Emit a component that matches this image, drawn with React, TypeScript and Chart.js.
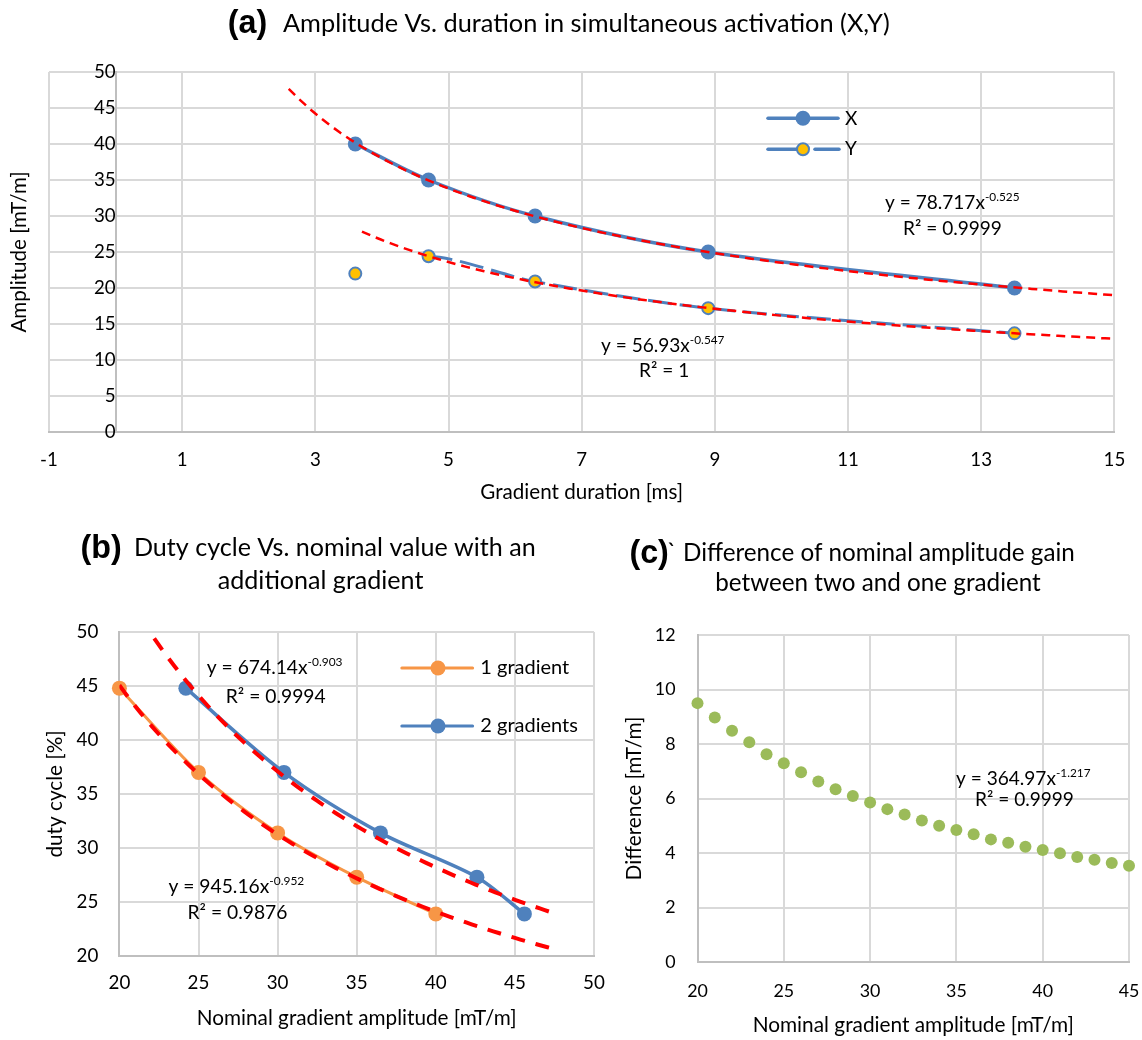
import React, { useEffect, useRef } from 'react';
import { Chart, registerables } from 'chart.js';

Chart.register(...registerables);

// ---------- (a) Amplitude vs. duration ----------
const xTicksA = [-1, 1, 3, 5, 7, 9, 11, 13, 15];
const yTicksA = [0, 5, 10, 15, 20, 25, 30, 35, 40, 45, 50];
const durationA = [3.6, 4.7, 6.3, 8.9, 13.5];
const amplitudeX = [40, 35, 30, 25, 20];
const amplitudeY = [22, 24.4, 20.9, 17.2, 13.7];
const trendXA = [78.717, -0.525]; // y = a * x^b (printed trendline)
const trendYA = [56.93, -0.547];
const trendRangeXA = [2.6, 15];
const trendRangeYA = [3.7, 15];

// ---------- (b) Duty cycle vs. nominal value ----------
const xTicksB = [20, 25, 30, 35, 40, 45, 50];
const yTicksB = [20, 25, 30, 35, 40, 45, 50];
const nominal1 = [20, 25, 30, 35, 40];
const duty1 = [44.8, 37, 31.4, 27.3, 23.9];
const nominal2 = [24.2, 30.4, 36.5, 42.6, 45.6];
const duty2 = [44.8, 37, 31.4, 27.3, 23.9];
const trend1B = [674.14, -0.903];
const trend2B = [945.16, -0.952];
const trendRange1B = [20, 47.4];
const trendRange2B = [22.2, 47.2];

// ---------- (c) Difference ----------
const xTicksC = [20, 25, 30, 35, 40, 45];
const yTicksC = [0, 2, 4, 6, 8, 10, 12];
const nominalC = [20, 21, 22, 23, 24, 25, 26, 27, 28, 29, 30, 31, 32, 33, 34, 35, 36, 37, 38, 39, 40, 41, 42, 43, 44, 45];
const differenceC = [9.5, 8.97, 8.49, 8.06, 7.62, 7.29, 6.96, 6.62, 6.34, 6.09, 5.85, 5.61, 5.41, 5.19, 5.0, 4.84, 4.69, 4.5, 4.38, 4.23, 4.11, 3.99, 3.85, 3.75, 3.63, 3.53];

const SANS = 'Lato, "Open Sans", sans-serif';
const BOLD = '"Liberation Sans", Arial, sans-serif';
const BLUE = '#4F81BD';
const ORANGE = '#F79646';
const GOLD = '#FFC000';
const GREEN = '#9BBB59';
const RED = '#FF0000';
const GRID = '#D9D9D9';
const AXIS = '#BFBFBF';

function fit(text: string, width: number, family = SANS, weight = 'normal') {
  const c = document.createElement('canvas').getContext('2d')!;
  c.font = `${weight} 100px ${family}`;
  return (100 * width) / c.measureText(text).width;
}
const lh = (s: number) => s * 1.2;

function powerCurve(coef: number[], range: number[], n = 80) {
  const pts: { x: number; y: number }[] = [];
  for (let i = 0; i <= n; i++) {
    const x = range[0] + ((range[1] - range[0]) * i) / n;
    pts.push({ x, y: coef[0] * Math.pow(x, coef[1]) });
  }
  return pts;
}
const pairs = (xs: number[], ys: number[]) => xs.map((x, i) => ({ x, y: ys[i] }));
const setTicks = (arr: number[]) => (s: any) => {
  s.ticks = arr.map((v) => ({ value: v }));
};

function text(ctx: CanvasRenderingContext2D, s: string, x: number, y: number, font: string, align: CanvasTextAlign = 'left') {
  ctx.font = font;
  ctx.fillStyle = '#000';
  ctx.textAlign = align;
  ctx.textBaseline = 'middle';
  ctx.fillText(s, x, y);
}
function eq(ctx: CanvasRenderingContext2D, base: string, sup: string, x: number, y: number, size: number) {
  text(ctx, base, x, y, `${size}px ${SANS}`);
  const w = ctx.measureText(base).width;
  text(ctx, sup, x + w, y - size * 0.33, `${size * 0.62}px ${SANS}`);
}
function legendLine(ctx: CanvasRenderingContext2D, x1: number, x2: number, y: number, color: string, w: number) {
  ctx.strokeStyle = color;
  ctx.lineWidth = w;
  ctx.lineCap = 'round';
  ctx.setLineDash([]);
  ctx.beginPath();
  ctx.moveTo(x1, y);
  ctx.lineTo(x2, y);
  ctx.stroke();
}
function dot(ctx: CanvasRenderingContext2D, x: number, y: number, r: number, fill: string, stroke?: string, sw = 0) {
  ctx.beginPath();
  ctx.arc(x, y, r, 0, Math.PI * 2);
  ctx.fillStyle = fill;
  ctx.fill();
  if (stroke && sw) {
    ctx.strokeStyle = stroke;
    ctx.lineWidth = sw;
    ctx.stroke();
  }
}

const baseOptions = {
  responsive: false,
  animation: false as const,
  devicePixelRatio: 1,
  events: [] as any[],
};

function makeA(canvas: HTMLCanvasElement) {
  const tick = fit('50', 21.7);
  const axTitle = fit('Gradient duration [ms]', 203);
  const lab = fit('(a)', 39.5, BOLD, 'bold');
  const ttl = fit('Amplitude Vs. duration in simultaneous activation (X,Y)', 607);
  const eqS = fit('y = 78.717x', 100);
  const plugin = {
    id: 'annA',
    afterDraw(chart: any) {
      const ctx = chart.ctx as CanvasRenderingContext2D;
      ctx.save();
      text(ctx, '(a)', 227.8, 24, `bold ${lab}px ${BOLD}`);
      text(ctx, 'Amplitude Vs. duration in simultaneous activation (X,Y)', 283, 24, `${ttl}px ${SANS}`);
      ctx.save();
      ctx.translate(19, 252);
      ctx.rotate(-Math.PI / 2);
      text(ctx, 'Amplitude [mT/m]', 0, 0, `${axTitle}px ${SANS}`, 'center');
      ctx.restore();
      // legend
      legendLine(ctx, 768, 838, 118.3, BLUE, 3.5);
      dot(ctx, 803, 118.3, 7.5, BLUE);
      text(ctx, 'X', 845, 119, `${eqS}px ${SANS}`);
      legendLine(ctx, 768, 799, 149.3, BLUE, 3.5);
      legendLine(ctx, 815, 839, 149.3, BLUE, 3.5);
      dot(ctx, 803, 149.3, 6, GOLD, BLUE, 2);
      text(ctx, 'Y', 845, 148.5, `${eqS}px ${SANS}`);
      // equations
      eq(ctx, 'y = 78.717x', '-0.525', 885, 203, eqS);
      text(ctx, 'R² = 0.9999', 903, 229, `${eqS}px ${SANS}`);
      eq(ctx, 'y = 56.93x', '-0.547', 601, 346, eqS);
      text(ctx, 'R² = 1', 639, 371, `${eqS}px ${SANS}`);
      ctx.restore();
    },
  };
  return new Chart(canvas, {
    type: 'scatter',
    data: {
      datasets: [
        { label: 'trend X', data: powerCurve(trendXA, trendRangeXA), showLine: true, borderColor: RED, borderWidth: 2.5, borderDash: [9, 6], pointRadius: 0, order: 0 },
        { label: 'trend Y', data: powerCurve(trendYA, trendRangeYA), showLine: true, borderColor: RED, borderWidth: 2.5, borderDash: [9, 6], pointRadius: 0, order: 0 },
        {
          label: 'X', data: pairs(durationA, amplitudeX), showLine: true, borderColor: BLUE, borderWidth: 3.5, tension: 0.3,
          pointRadius: 7.5, pointBackgroundColor: BLUE, pointBorderColor: BLUE, pointBorderWidth: 0, order: 1, clip: false,
        },
        {
          label: 'Y', data: pairs(durationA, amplitudeY), showLine: true, borderColor: BLUE, borderWidth: 3, borderDash: [24, 8], tension: 0.3,
          segment: { borderColor: (c: any) => (c.p0DataIndex === 0 ? 'rgba(0,0,0,0)' : undefined) },
          pointRadius: 6, pointBackgroundColor: GOLD, pointBorderColor: BLUE, pointBorderWidth: 2, order: 1, clip: false,
        },
      ],
    },
    options: {
      ...baseOptions,
      layout: { padding: { left: 49, right: 25, top: 72, bottom: 0 } },
      plugins: { legend: { display: false }, tooltip: { enabled: false } },
      scales: {
        x: {
          type: 'linear', position: 'bottom', min: -1, max: 15,
          afterBuildTicks: setTicks(xTicksA),
          afterFit: (s: any) => { s.height = 73; },
          grid: { color: GRID, lineWidth: 2, drawTicks: false },
          border: { color: AXIS, width: 2 },
          ticks: { color: '#000', font: { family: SANS, size: tick }, padding: 28 - lh(tick) / 2, maxRotation: 0, autoSkip: false },
          title: { display: true, text: 'Gradient duration [ms]', color: '#000', font: { family: SANS, size: axTitle }, padding: { top: 0, bottom: Math.max(0, 11 - lh(axTitle) / 2) } },
        },
        y: {
          type: 'linear', position: { x: 0 } as any, min: 0, max: 50,
          afterBuildTicks: setTicks(yTicksA),
          grid: { color: GRID, lineWidth: 2, drawTicks: false },
          border: { color: AXIS, width: 2 },
          ticks: { color: '#000', font: { family: SANS, size: tick }, padding: 21, autoSkip: false },
        },
      },
    } as any,
    plugins: [plugin],
  });
}

function makeB(canvas: HTMLCanvasElement) {
  const tick = fit('40', 21.8);
  const axTitle = fit('Nominal gradient amplitude [mT/m]', 320);
  const lab = fit('(a)', 39.5, BOLD, 'bold');
  const ttl = fit('Duty cycle Vs. nominal value with an', 402);
  const eqS = fit('y = 674.14x', 101);
  const legS = fit('1 gradient', 89);
  const plugin = {
    id: 'annB',
    afterDraw(chart: any) {
      const ctx = chart.ctx as CanvasRenderingContext2D;
      ctx.save();
      text(ctx, '(b)', 80.4, 44, `bold ${lab}px ${BOLD}`);
      text(ctx, 'Duty cycle Vs. nominal value with an', 134, 43, `${ttl}px ${SANS}`);
      text(ctx, 'additional gradient', 320.6, 76, `${ttl}px ${SANS}`, 'center');
      // legend
      legendLine(ctx, 401.8, 472.6, 163, ORANGE, 3);
      dot(ctx, 438, 163, 7.5, ORANGE);
      text(ctx, '1 gradient', 480.3, 163, `${legS}px ${SANS}`);
      legendLine(ctx, 401.8, 472.6, 221, BLUE, 3);
      dot(ctx, 438, 221, 7.5, BLUE);
      text(ctx, '2 gradients', 480.3, 221, `${legS}px ${SANS}`);
      // equations
      eq(ctx, 'y = 674.14x', '-0.903', 206.7, 163, eqS);
      text(ctx, 'R² = 0.9994', 225.8, 192, `${eqS}px ${SANS}`);
      eq(ctx, 'y = 945.16x', '-0.952', 168.4, 382, eqS);
      text(ctx, 'R² = 0.9876', 187.5, 408, `${eqS}px ${SANS}`);
      ctx.restore();
    },
  };
  return new Chart(canvas, {
    type: 'scatter',
    data: {
      datasets: [
        { label: 'trend 1', data: powerCurve(trend1B, trendRange1B), showLine: true, borderColor: RED, borderWidth: 4, borderDash: [14, 11], pointRadius: 0, order: 0 },
        { label: 'trend 2', data: powerCurve(trend2B, trendRange2B), showLine: true, borderColor: RED, borderWidth: 4, borderDash: [14, 11], pointRadius: 0, order: 0 },
        {
          label: '1 gradient', data: pairs(nominal1, duty1), showLine: true, borderColor: ORANGE, borderWidth: 3, tension: 0.3,
          pointRadius: 7.5, pointBackgroundColor: ORANGE, pointBorderColor: ORANGE, pointBorderWidth: 0, order: 1, clip: false,
        },
        {
          label: '2 gradients', data: pairs(nominal2, duty2), showLine: true, borderColor: BLUE, borderWidth: 3.5, tension: 0.3,
          pointRadius: 7.5, pointBackgroundColor: BLUE, pointBorderColor: BLUE, pointBorderWidth: 0, order: 1, clip: false,
        },
      ],
    },
    options: {
      ...baseOptions,
      layout: { padding: { left: 0, right: 46, top: 127, bottom: 0 } },
      plugins: { legend: { display: false }, tooltip: { enabled: false } },
      scales: {
        x: {
          type: 'linear', position: 'bottom', min: 20, max: 50,
          afterBuildTicks: setTicks(xTicksB),
          afterFit: (s: any) => { s.height = 84; },
          grid: { color: GRID, lineWidth: 2, drawTicks: false },
          border: { color: AXIS, width: 2 },
          ticks: { color: '#000', font: { family: SANS, size: tick }, padding: 27 - lh(tick) / 2, maxRotation: 0, autoSkip: false },
          title: { display: true, text: 'Nominal gradient amplitude [mT/m]', color: '#000', font: { family: SANS, size: axTitle }, padding: { top: 0, bottom: Math.max(0, 22 - lh(axTitle) / 2) } },
        },
        y: {
          type: 'linear', position: 'left', min: 20, max: 50,
          afterBuildTicks: setTicks(yTicksB),
          afterFit: (s: any) => { s.width = 119.4; },
          grid: { color: GRID, lineWidth: 2, drawTicks: false },
          border: { color: AXIS, width: 2 },
          ticks: { color: '#000', font: { family: SANS, size: tick }, padding: 21, autoSkip: false },
          title: { display: true, text: 'duty cycle [%]', color: '#000', font: { family: SANS, size: axTitle }, padding: { top: Math.max(0, 55.5 - lh(axTitle) / 2), bottom: 0 } },
        },
      },
    } as any,
    plugins: [plugin],
  });
}

function makeC(canvas: HTMLCanvasElement) {
  const tick = fit('20', 20.7);
  const axTitle = fit('Nominal gradient amplitude [mT/m]', 321.5);
  const lab = fit('(a)', 39.5, BOLD, 'bold');
  const ttl = fit('Difference of nominal amplitude gain', 392);
  const eqS = fit('y = 364.97x', 100);
  const plugin = {
    id: 'annC',
    afterDraw(chart: any) {
      const ctx = chart.ctx as CanvasRenderingContext2D;
      ctx.save();
      text(ctx, '(c)', 29.4, 49, `bold ${lab}px ${BOLD}`);
      text(ctx, '`', 67, 48, `${ttl}px ${SANS}`);
      text(ctx, 'Difference of nominal amplitude gain', 83, 48, `${ttl}px ${SANS}`);
      text(ctx, 'between two and one gradient', 278, 78, `${ttl}px ${SANS}`, 'center');
      eq(ctx, 'y = 364.97x', '-1.217', 356, 274, eqS);
      text(ctx, 'R² = 0.9999', 375, 295, `${eqS}px ${SANS}`);
      ctx.restore();
    },
  };
  return new Chart(canvas, {
    type: 'scatter',
    data: {
      datasets: [
        {
          label: 'Difference', data: pairs(nominalC, differenceC), showLine: false,
          pointRadius: 6, pointBackgroundColor: GREEN, pointBorderColor: GREEN, pointBorderWidth: 0, clip: false,
        },
      ],
    },
    options: {
      ...baseOptions,
      layout: { padding: { left: 0, right: 71, top: 130, bottom: 0 } },
      plugins: { legend: { display: false }, tooltip: { enabled: false } },
      scales: {
        x: {
          type: 'linear', position: 'bottom', min: 20, max: 45,
          afterBuildTicks: setTicks(xTicksC),
          afterFit: (s: any) => { s.height = 78; },
          grid: { color: GRID, lineWidth: 2, drawTicks: false },
          border: { color: AXIS, width: 2 },
          ticks: { color: '#000', font: { family: SANS, size: tick }, padding: 29.7 - lh(tick) / 2, maxRotation: 0, autoSkip: false },
          title: { display: true, text: 'Nominal gradient amplitude [mT/m]', color: '#000', font: { family: SANS, size: axTitle }, padding: { top: 0, bottom: Math.max(0, 15 - lh(axTitle) / 2) } },
        },
        y: {
          type: 'linear', position: 'left', min: 0, max: 12,
          afterBuildTicks: setTicks(yTicksC),
          afterFit: (s: any) => { s.width = 97.5; },
          grid: { color: GRID, lineWidth: 2, drawTicks: false },
          border: { color: AXIS, width: 2 },
          ticks: { color: '#000', font: { family: SANS, size: tick }, padding: 22, autoSkip: false },
          title: { display: true, text: 'Difference [mT/m]', color: '#000', font: { family: SANS, size: axTitle }, padding: { top: Math.max(0, 34.6 - lh(axTitle) / 2), bottom: 0 } },
        },
      },
    } as any,
    plugins: [plugin],
  });
}

export default function App() {
  const refA = useRef<HTMLCanvasElement>(null);
  const refB = useRef<HTMLCanvasElement>(null);
  const refC = useRef<HTMLCanvasElement>(null);
  useEffect(() => {
    const charts = [makeA(refA.current!), makeB(refB.current!), makeC(refC.current!)];
    return () => charts.forEach((c) => c.destroy());
  }, []);
  return (
    <div style={{ position: 'absolute', left: 0, top: 0, width: 1142, height: 1040, background: '#fff', overflow: 'hidden' }}>
      <canvas ref={refA} width={1142} height={505} style={{ position: 'absolute', left: 0, top: 0 }} />
      <canvas ref={refB} width={640} height={535} style={{ position: 'absolute', left: 0, top: 505 }} />
      <canvas ref={refC} width={600} height={535} style={{ position: 'absolute', left: 600, top: 505 }} />
    </div>
  );
}
